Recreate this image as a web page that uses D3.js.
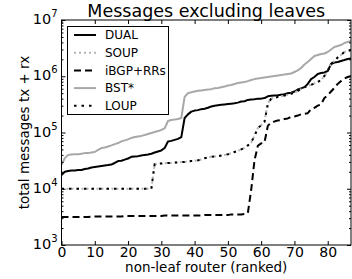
<!DOCTYPE html>
<html>
<head>
<meta charset="utf-8">
<script src="https://cdn.jsdelivr.net/npm/d3@7"></script>
<style>
    body { margin: 0; background: #fff; }
    text { font-family: "DejaVu Sans", sans-serif; }
</style>
</head>
<body>
<div id="chart"></div>
<script>
// values, one per ranked router (0..87)
var dual = [17600, 20000, 20700, 21100, 21100, 21500, 21500, 22400, 22900, 23900,
    24400, 24900, 25400, 25900, 26400, 27000, 28700, 31000, 31500, 33000,
    34500, 37000, 37500, 38000, 39000, 40000, 40500, 42000, 44000, 46000,
    48000, 53000, 69000, 71000, 74000, 77000, 83000, 181000, 210000, 235000,
    245000, 250000, 260000, 265000, 275000, 290000, 300000, 305000, 310000, 315000,
    320000, 325000, 330000, 340000, 355000, 360000, 380000, 385000, 390000, 400000,
    400000, 410000, 440000, 450000, 455000, 460000, 470000, 480000, 500000, 510000,
    535000, 580000, 610000, 640000, 730000, 890000, 970000, 1100000, 1140000, 1170000,
    1240000, 1650000, 1750000, 1790000, 1870000, 1940000, 2030000, 2070000];

var bst = [26400, 35000, 40000, 40500, 41000, 41000, 42000, 43000, 43000, 44000,
    45000, 49000, 53000, 54000, 56500, 59000, 62000, 65000, 69500, 72500,
    75500, 80000, 83000, 85000, 87000, 90000, 94000, 98000, 102000, 106000,
    111000, 118000, 160000, 167000, 170000, 174000, 181000, 430000, 500000, 520000,
    535000, 550000, 560000, 570000, 580000, 590000, 610000, 620000, 640000, 655000,
    685000, 700000, 730000, 760000, 775000, 790000, 820000, 860000, 890000, 910000,
    930000, 950000, 970000, 990000, 1010000, 1030000, 1050000, 1070000, 1100000, 1120000,
    1190000, 1270000, 1400000, 1620000, 1790000, 2030000, 2290000, 2390000, 2490000, 2540000,
    2700000, 2990000, 3310000, 3450000, 3590000, 3900000, 4070000, 4230000];

var loup = [10000, 10000, 10000, 10000, 10000, 10000, 10000, 10000, 10000, 10000,
    10000, 10000, 10000, 10000, 10000, 10000, 10000, 10000, 10000, 10000,
    10000, 10000, 10000, 10000, 10000, 10000, 10000, 10000, 27500, 28000,
    28000, 28500, 28700, 28700, 29300, 29300, 30000, 30000, 30500, 31000,
    31500, 32000, 33000, 35000, 36000, 37000, 37500, 38000, 39000, 40000,
    41000, 43000, 45000, 47000, 50000, 53000, 59000, 66500, 87000, 120000,
    134000, 154000, 320000, 400000, 410000, 430000, 440000, 455000, 470000, 490000,
    510000, 550000, 590000, 640000, 670000, 700000, 745000, 790000, 860000, 1010000,
    1240000, 1650000, 1870000, 2150000, 2390000, 2700000, 2810000, 2930000];

var soup = [10000, 10000, 10000, 10000, 10000, 10000, 10000, 10000, 10000, 10000,
    10000, 10000, 10000, 10000, 10000, 10000, 10000, 10000, 10000, 10000,
    10000, 10000, 10000, 10000, 10000, 10000, 10000, 10000, 27500, 28000,
    28000, 28500, 28700, 28700, 29300, 29300, 30000, 30000, 30500, 31000,
    31500, 32000, 33000, 35000, 36000, 37000, 37500, 38000, 39000, 40000,
    41000, 43000, 45000, 47000, 50000, 53000, 59000, 66500, 87000, 120000,
    134000, 160000, 330000, 400000, 410000, 430000, 440000, 455000, 470000, 490000,
    510000, 550000, 590000, 640000, 670000, 700000, 745000, 790000, 860000, 1010000,
    1240000, 1650000, 1870000, 2150000, 2390000, 2700000, 2810000, 2930000];

var ibgp = [3150, 3150, 3150, 3150, 3150, 3150, 3150, 3150, 3150, 3200,
    3200, 3200, 3200, 3200, 3200, 3200, 3200, 3200, 3200, 3280,
    3280, 3280, 3280, 3280, 3280, 3280, 3280, 3280, 3280, 3280,
    3280, 3350, 3350, 3350, 3350, 3350, 3350, 3350, 3350, 3350,
    3350, 3350, 3350, 3400, 3400, 3400, 3400, 3400, 3400, 3400,
    3400, 3500, 3500, 3500, 3500, 3560, 3700, 9500, 32000, 58000,
    64000, 66500, 131000, 151000, 157000, 164000, 167000, 174000, 178000, 189000,
    192000, 200000, 210000, 215000, 220000, 260000, 275000, 300000, 315000, 410000,
    460000, 535000, 620000, 730000, 820000, 910000, 970000, 1010000];

var seriesNames = ["DUAL", "SOUP", "iBGP+RRs", "BST*", "LOUP"];
var xTicks = [0, 10, 20, 30, 40, 50, 60, 70, 80];
var yTicks = [1e3, 1e4, 1e5, 1e6, 1e7];

var width = 352, height = 279;
var plotL = 61.5, plotR = 351, plotT = 20, plotB = 245;

var svg = d3.select("#chart").append("svg")
    .attr("width", width)
    .attr("height", height);

var x = d3.scaleLinear().domain([0, 87]).range([plotL, plotR]);
var y = d3.scaleLog().domain([1e3, 1e7]).range([plotB, plotT]);

var styles = [
    {data: dual, color: "#000", width: 2, dash: null},
    {data: soup, color: "#b4b4b4", width: 2, dash: "2,3"},
    {data: ibgp, color: "#000", width: 2, dash: "7,4"},
    {data: bst, color: "#a8a8a8", width: 2, dash: null},
    {data: loup, color: "#000", width: 2, dash: "2.5,5"}
];

svg.append("clipPath").attr("id", "clip")
    .append("rect")
    .attr("x", plotL).attr("y", plotT)
    .attr("width", plotR - plotL).attr("height", plotB - plotT);

var line = d3.line()
    .x(function(d, i) { return x(i); })
    .y(function(d) { return y(d); });

var plot = svg.append("g").attr("clip-path", "url(#clip)");

styles.forEach(function(s) {
    plot.append("path")
        .datum(s.data)
        .attr("d", line)
        .attr("fill", "none")
        .attr("stroke", s.color)
        .attr("stroke-width", s.width)
        .attr("stroke-dasharray", s.dash)
        .attr("stroke-linejoin", "round");
});

// minor ticks for the log axis
var minors = [];
yTicks.slice(0, 4).forEach(function(d) {
    for (var k = 2; k < 10; k++) minors.push(d * k);
});

// X AXIS
var xAxis = svg.append("g")
    .attr("transform", "translate(0," + plotB + ")")
    .call(d3.axisBottom(x).tickValues(xTicks).tickSizeInner(-4).tickSizeOuter(0).tickPadding(2));
xAxis.selectAll("text").attr("font-size", "14px").attr("fill", "#000");

svg.append("g")
    .attr("transform", "translate(0," + plotT + ")")
    .call(d3.axisTop(x).tickValues(xTicks).tickSizeInner(-4).tickSizeOuter(0).tickFormat(""));

// Y AXIS
var yAxis = svg.append("g")
    .attr("transform", "translate(" + plotL + ",0)")
    .call(d3.axisLeft(y).tickValues(yTicks).tickSizeInner(-4).tickSizeOuter(0).tickFormat(""));

yAxis.selectAll(".tick").append("text")
    .attr("x", -4)
    .attr("dy", "0.36em")
    .attr("text-anchor", "end")
    .attr("fill", "#000")
    .each(function(d) {
        var t = d3.select(this);
        t.append("tspan").attr("font-size", "14.5px").text("10");
        t.append("tspan").attr("font-size", "10px").attr("dy", "-0.7em")
            .text(Math.round(Math.log10(d)));
    });

svg.append("g")
    .attr("transform", "translate(" + plotR + ",0)")
    .call(d3.axisRight(y).tickValues(yTicks).tickSizeInner(-4).tickSizeOuter(0).tickFormat(""));

svg.append("g")
    .attr("transform", "translate(" + plotL + ",0)")
    .call(d3.axisLeft(y).tickValues(minors).tickSizeInner(-2).tickSizeOuter(0).tickFormat(""));
svg.append("g")
    .attr("transform", "translate(" + plotR + ",0)")
    .call(d3.axisRight(y).tickValues(minors).tickSizeInner(-2).tickSizeOuter(0).tickFormat(""));

svg.selectAll(".domain").remove();
svg.selectAll(".tick line").attr("stroke", "#000");

// frame
svg.append("rect")
    .attr("x", plotL).attr("y", plotT)
    .attr("width", plotR - plotL).attr("height", plotB - plotT)
    .attr("fill", "none")
    .attr("stroke", "#000")
    .attr("stroke-width", 1);

// title and labels
svg.append("text")
    .attr("x", (plotL + plotR) / 2)
    .attr("y", 17)
    .attr("text-anchor", "middle")
    .attr("font-size", "17.5px")
    .text("Messages excluding leaves");

svg.append("text")
    .attr("x", (plotL + plotR) / 2)
    .attr("y", 272)
    .attr("text-anchor", "middle")
    .attr("font-size", "13.5px")
    .text("non-leaf router (ranked)");

svg.append("text")
    .attr("transform", "translate(29," + ((plotT + plotB) / 2) + ") rotate(-90)")
    .attr("text-anchor", "middle")
    .attr("font-size", "13.5px")
    .text("total messages tx + rx");

// LEGEND
var legend = svg.append("g");
legend.append("rect")
    .attr("x", 67.5).attr("y", 26.5)
    .attr("width", 101).attr("height", 88)
    .attr("fill", "#fff")
    .attr("stroke", "#000")
    .attr("stroke-width", 1);

seriesNames.forEach(function(name, i) {
    var s = styles[i];
    var ly = 35 + i * 17.7;
    legend.append("line")
        .attr("x1", 74).attr("x2", 96)
        .attr("y1", ly).attr("y2", ly)
        .attr("stroke", s.color)
        .attr("stroke-width", s.width)
        .attr("stroke-dasharray", s.dash);
    legend.append("text")
        .attr("x", 105)
        .attr("y", ly)
        .attr("dy", "0.36em")
        .attr("font-size", "12px")
        .text(name);
});
</script>
</body>
</html>
